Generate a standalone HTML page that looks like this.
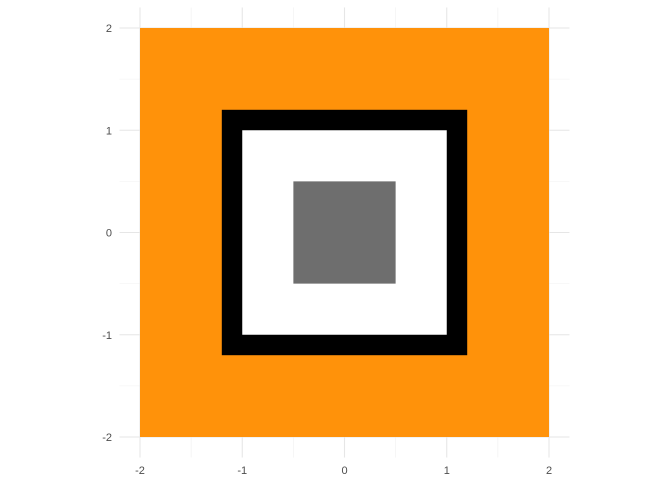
<!DOCTYPE html>
<html><head><meta charset="utf-8"><style>
html,body{margin:0;padding:0;background:#fff;}
svg{display:block;font-family:"Liberation Sans",sans-serif;}
</style></head><body>
<svg id="chart" width="672" height="480"></svg>
<script>
const ticks=[-2,-1,0,1,2];
const tickLabels=["-2","-1","0","1","2"];
const minorTicks=[-1.5,-0.5,0.5,1.5];
const squareNames=["orange-square","black-frame","white-square","grey-square"];
const squareHalf=[2,1.2,1,0.5];
const squareColors=["#FF920A","#000000","#FFFFFF","#6E6E6E"];
const NS="http://www.w3.org/2000/svg";
const svg=document.getElementById('chart');
const x0=344.5,y0=232.5,s=102.25;
const X=v=>x0+v*s, Y=v=>y0-v*s;
const xmin=-2.2,xmax=2.2;
function el(t,a){const e=document.createElementNS(NS,t);for(const k in a)e.setAttribute(k,a[k]);svg.appendChild(e);return e;}
minorTicks.forEach(v=>{
 let l=el('line',{x1:X(v),x2:X(v),y1:Y(xmax),y2:Y(xmin),stroke:'#f0f0f0','stroke-width':0.6});
 
 
 l=el('line',{y1:Y(v),y2:Y(v),x1:X(xmin),x2:X(xmax),stroke:'#f0f0f0','stroke-width':0.6});
 
 
});
ticks.forEach((v,i)=>{
 let l=el('line',{x1:X(v),x2:X(v),y1:Y(xmax),y2:Y(xmin),stroke:'#e6e6e6','stroke-width':1.1});
 
 
 l=el('line',{y1:Y(v),y2:Y(v),x1:X(xmin),x2:X(xmax),stroke:'#e6e6e6','stroke-width':1.1});
 
 
 let t=el('text',{x:X(v),y:474,'text-anchor':'middle','font-size':11,fill:'#4d4d4d'});
 t.textContent=tickLabels[i];
 
 
 t=el('text',{x:112,y:Y(v)+4,'text-anchor':'end','font-size':11,fill:'#4d4d4d'});
 t.textContent=tickLabels[i];
 
 
});
squareHalf.forEach((h,i)=>{
 const r=el('rect',{x:X(-h),y:Y(h),width:X(h)-X(-h),height:Y(-h)-Y(h),fill:squareColors[i]});
 
 
});
</script>
</body></html>
